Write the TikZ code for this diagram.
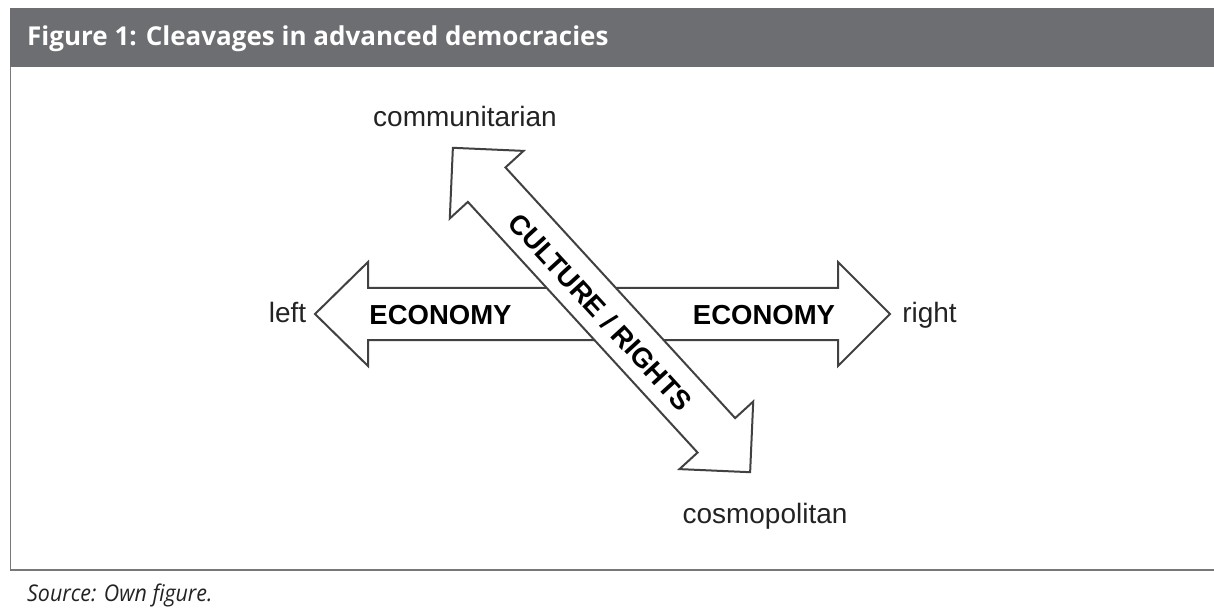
\documentclass[tikz,border=0pt]{standalone}
\usepackage{fontspec}
\setmainfont{Open Sans}
\newfontfamily\arial{Liberation Sans}
\usepackage{tikz}
\usepackage{graphicx}

\definecolor{bargray}{RGB}{109,110,113}
\definecolor{framegray}{RGB}{120,120,120}
\definecolor{arrowgray}{RGB}{65,65,65}
\definecolor{inkgray}{RGB}{35,35,35}

\tikzset{
	pole/.style={font=\arial\fontsize{28}{30}\selectfont, text=inkgray, inner sep=0pt},
	axislabel/.style={font=\arial\bfseries\fontsize{27.5}{30}\selectfont, text=black, inner sep=0pt},
	blockarrow/.style={draw=arrowgray, line width=2pt, fill=white, line join=miter}
}

\begin{document}
\begin{tikzpicture}[x=1pt, y=-1pt]
		\useasboundingbox (0,0) rectangle (1214,609);
		% header bar and frame
		\fill[bargray] (10,8.5) rectangle (1214,67);
		\draw[framegray, line width=1.5pt] (10.5,67) -- (10.5,570) -- (1214,570);
		\node[anchor=base west, text=white, inner sep=0pt, font=\bfseries\fontsize{26}{30}\selectfont] (title) at (27,45.5) {Figure 1: Cleavages in advanced democracies};
		% economy arrow
		\draw[blockarrow] (315,314) -- (368,262) -- (368,288) -- (838,288) -- (838,262) -- (890,314) -- (838,366) -- (838,340) -- (368,340) -- (368,366) -- cycle;
		% culture / rights arrow
		\begin{scope}[shift={(601.5,310)}, rotate=-47.5]
		\draw[blockarrow] (-220,0) -- (-170,-50) -- (-170,-25.5) -- (170,-25.5) -- (170,-50) -- (220,0) -- (170,50) -- (170,25.5) -- (-170,25.5) -- (-170,50) -- cycle;
		\end{scope}
		\node[axislabel, anchor=base] (econL) at (440.5,324) {ECONOMY};
		\node[axislabel, anchor=base] (econR) at (764,324) {ECONOMY};
		\node[axislabel, rotate=-47.5] (cult) at (600.5,312) {CULTURE / RIGHTS};
		\node[pole, anchor=base] (lft) at (287.5,323) {left};
		\node[pole, anchor=base] (rgt) at (929.5,323) {right};
		\node[pole, anchor=base] (comm) at (465,127) {communitarian};
		\node[pole, anchor=base] (cosm) at (765,523) {cosmopolitan};
		% source line
		\node[anchor=base west, inner sep=0pt, text=inkgray, font=\itshape\fontsize{23}{26}\selectfont] (src) at (27,601) {\scalebox{0.93}[1]{Source: Own figure.}};
\end{tikzpicture}
\end{document}
